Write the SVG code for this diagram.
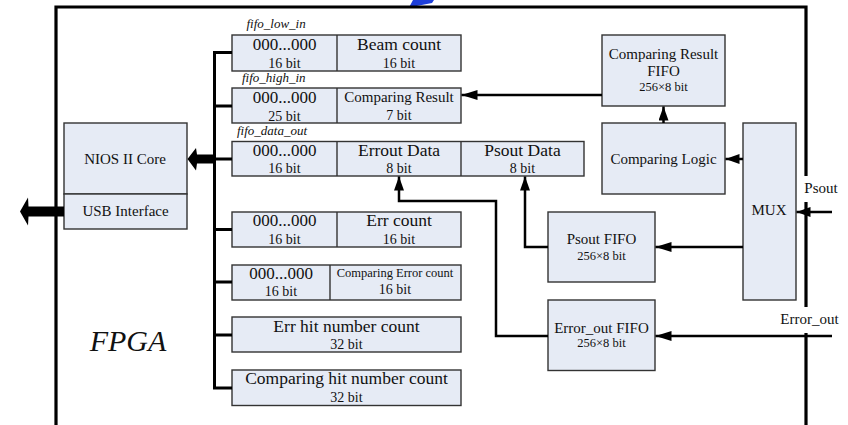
<svg xmlns="http://www.w3.org/2000/svg" width="848" height="425" viewBox="0 0 848 425" font-family="'Liberation Serif', 'DejaVu Serif', serif">
<style>
.box{fill:#E6EBF5;stroke:#333;stroke-width:1.4}
.div{stroke:#333;stroke-width:1.4}
text{font-family:'Liberation Serif','DejaVu Serif',serif;fill:#111;text-anchor:middle}
.t17{font-size:17.5px}
.t15{font-size:15px}
.t14{font-size:14px}
.t12{font-size:12.5px}
.it{font-style:italic;font-size:13px;text-anchor:start}
.frame{stroke:#000;stroke-width:3.2;fill:none}
.bus{stroke:#000;stroke-width:3;fill:none}
.con{stroke:#000;stroke-width:2.5;fill:none}
</style>
<defs>
<marker id="ahL" markerUnits="userSpaceOnUse" markerWidth="17" markerHeight="11" refX="16" refY="5" orient="auto">
<path d="M0,0 L16,5 L0,10 z" fill="#000"/>
</marker>
<marker id="ahS" markerUnits="userSpaceOnUse" markerWidth="15" markerHeight="11" refX="14" refY="5" orient="auto">
<path d="M0,0 L14,5 L0,10 z" fill="#000"/>
</marker>
</defs>

<!-- FPGA frame -->
<g id="frame">
<polygon points="409,7.5 413,0 434,0 432,3" fill="#1E3FDA"/>
<path class="frame" d="M56,425 V7 H806 V176"/>
<path class="frame" d="M806,202 V307"/>
<path class="frame" d="M806,333 V425"/>
<text x="128" y="351" font-family="Liberation Serif" style="font-size:30px;font-style:italic">FPGA</text>
</g>

<!-- NIOS / USB -->
<g id="nios">
<rect class="box" x="64" y="123" width="123" height="71"/>
<text class="t15" x="125" y="163.5">NIOS II Core</text>
</g>
<g id="usb">
<rect class="box" x="64" y="194" width="123" height="35"/>
<text class="t15" x="125.5" y="216">USB Interface</text>
</g>

<!-- Registers -->
<g id="reg_low">
<text class="it" x="246.5" y="28">fifo_low_in</text>
<rect class="box" x="232" y="35" width="229" height="36"/>
<line class="div" x1="337" y1="35" x2="337" y2="71"/>
<text class="t17" x="284.5" y="50" style="font-size:17px">000...000</text>
<text class="t14" x="284.5" y="67.5">16 bit</text>
<text class="t17" x="399" y="50">Beam count</text>
<text class="t14" x="399" y="67.5">16 bit</text>
</g>
<g id="reg_high">
<text class="it" x="242" y="81.5">fifo_high_in</text>
<rect class="box" x="232" y="88" width="229" height="35"/>
<line class="div" x1="337" y1="88" x2="337" y2="123"/>
<text class="t17" x="284.5" y="102.5" style="font-size:17px">000...000</text>
<text class="t14" x="284.5" y="120.5">25 bit</text>
<text class="t15" x="399" y="101.5">Comparing Result</text>
<text class="t14" x="399" y="119.5">7 bit</text>
</g>
<g id="reg_data">
<text class="it" x="237" y="135">fifo_data_out</text>
<rect class="box" x="232" y="141.5" width="352" height="34.5"/>
<line class="div" x1="337" y1="141.5" x2="337" y2="176"/>
<line class="div" x1="461" y1="141.5" x2="461" y2="176"/>
<text class="t17" x="284.5" y="155.5" style="font-size:17px">000...000</text>
<text class="t14" x="284.5" y="172.5">16 bit</text>
<text class="t17" x="399" y="155.5">Errout Data</text>
<text class="t14" x="399" y="172.5">8 bit</text>
<text class="t17" x="522.5" y="155.5">Psout Data</text>
<text class="t14" x="522.5" y="172.5">8 bit</text>
</g>
<g id="reg_err">
<rect class="box" x="232" y="212" width="229" height="35"/>
<line class="div" x1="337" y1="212" x2="337" y2="247"/>
<text class="t17" x="284.5" y="226" style="font-size:17px">000...000</text>
<text class="t14" x="284.5" y="244">16 bit</text>
<text class="t17" x="399" y="226">Err count</text>
<text class="t14" x="399" y="244">16 bit</text>
</g>
<g id="reg_cmperr">
<rect class="box" x="232" y="265" width="229" height="35"/>
<line class="div" x1="330" y1="265" x2="330" y2="300"/>
<text class="t17" x="281" y="278.5" style="font-size:17px">000...000</text>
<text class="t14" x="281" y="296">16 bit</text>
<text class="t12" x="395" y="276.5">Comparing Error count</text>
<text class="t14" x="395" y="293.5">16 bit</text>
</g>
<g id="reg_errhit">
<rect class="box" x="232" y="317" width="229" height="35"/>
<text class="t17" x="346.5" y="331.5">Err hit number count</text>
<text class="t14" x="346.5" y="349">32 bit</text>
</g>
<g id="reg_cmphit">
<rect class="box" x="232" y="370" width="229" height="35.5"/>
<text class="t17" x="346.5" y="384">Comparing hit number count</text>
<text class="t14" x="346.5" y="401.5">32 bit</text>
</g>

<!-- Right side blocks -->
<g id="cr_fifo">
<rect class="box" x="602" y="35" width="123" height="71"/>
<text class="t15" x="663.5" y="59">Comparing Result</text>
<text class="t15" x="663.5" y="75.5">FIFO</text>
<text class="t12" x="663.5" y="91">256×8 bit</text>
</g>
<g id="cmp_logic">
<rect class="box" x="602" y="123" width="123" height="71"/>
<text class="t15" x="663.5" y="163.5">Comparing Logic</text>
</g>
<g id="mux">
<rect class="box" x="743" y="123" width="53" height="177"/>
<text class="t15" x="769" y="215">MUX</text>
</g>
<g id="psout_fifo">
<rect class="box" x="548" y="212" width="107" height="70"/>
<text class="t15" x="601.5" y="244">Psout FIFO</text>
<text class="t12" x="601.5" y="259.5">256×8 bit</text>
</g>
<g id="errout_fifo">
<rect class="box" x="548" y="300" width="107" height="70.5"/>
<text class="t15" x="601.5" y="333">Error_out FIFO</text>
<text class="t12" x="601.5" y="347">256×8 bit</text>
</g>
<g id="labels">
<text class="t15" x="821" y="193">Psout</text>
<text class="t15" x="809.5" y="323.5">Error_out</text>
</g>

<!-- Connectors -->
<g id="connectors">
<path class="bus" d="M214.5,52.5 V388.5 M213,52.5 H232 M213,106 H232 M213,159 H232 M213,229.5 H232 M213,282 H232 M213,335 H232 M213,388 H232"/>
<polygon points="215,154.5 197,154.5 196,148 187.5,159 196,170.5 197,163.5 215,163.5" fill="#000"/>
<polygon points="64,206.5 28.5,206.5 28,197.5 20,211.5 28,225.5 28.5,216.5 64,216.5" fill="#000"/>
<line class="con" x1="602" y1="95" x2="461.5" y2="95" marker-end="url(#ahL)"/>
<line class="con" x1="663.5" y1="123" x2="663.5" y2="106.5" marker-end="url(#ahS)"/>
<line class="con" x1="743" y1="159" x2="725.5" y2="159" marker-end="url(#ahS)"/>
<line class="con" x1="743" y1="247" x2="655.5" y2="247" marker-end="url(#ahL)"/>
<polyline class="con" points="548,247 525,247 525,176.5" marker-end="url(#ahS)"/>
<polyline class="con" points="548,336 496,336 496,201 399,201 399,176.5" marker-end="url(#ahS)"/>
<line class="con" x1="832" y1="336" x2="655.5" y2="336" marker-end="url(#ahL)"/>
<line class="con" x1="832" y1="212" x2="796.5" y2="212" marker-end="url(#ahS)"/>
</g>
</svg>
